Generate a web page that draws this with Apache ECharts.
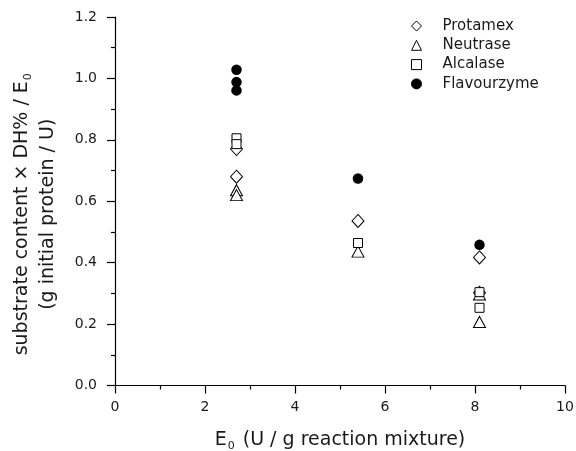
<!DOCTYPE html>
<html>
<head>
<meta charset="utf-8">
<script src="https://cdn.jsdelivr.net/npm/echarts@6/dist/echarts.min.js"></script>
<style>
  html, body { margin: 0; padding: 0; background: #fff; }
  #chart { width: 576px; height: 451px; }
</style>
</head>
<body>
<div id="chart"></div>
<script>
// Enzyme loading (U / g reaction mixture) and normalised hydrolysis per enzyme
const protamexX = [2.7, 2.7, 5.4, 8.1, 8.1];
const protamexY = [0.770, 0.680, 0.536, 0.417, 0.302];
const neutraseX = [2.7, 2.7, 5.4, 8.1, 8.1];
const neutraseY = [0.636, 0.620, 0.436, 0.296, 0.207];
const alcalaseX = [2.7, 2.7, 5.4, 8.1, 8.1];
const alcalaseY = [0.805, 0.786, 0.464, 0.304, 0.253];
const flavourzymeX = [2.7, 2.7, 2.7, 5.4, 8.1];
const flavourzymeY = [1.028, 0.988, 0.961, 0.674, 0.458];

const xTicks = [0, 2, 4, 6, 8, 10];
const yTicks = [0.0, 0.2, 0.4, 0.6, 0.8, 1.0, 1.2];

const pairs = (xs, ys) => xs.map((x, i) => [x, ys[i]]);
const font = 'DejaVu Sans';
const ink = '#1a1a1a';

const openStyle = { color: '#fff', borderColor: '#000', borderWidth: 1, opacity: 1 };

const chart = echarts.init(document.getElementById('chart'), null, { renderer: 'canvas' });
chart.setOption({
  animation: false,
  backgroundColor: '#fff',
  textStyle: { fontFamily: font, color: ink },
  grid: { left: 115, right: 11, top: 17, bottom: 65.5, outerBoundsMode: 'none', containLabel: false },
  legend: {
    orient: 'vertical',
    left: 406,
    top: 13.5,
    itemWidth: 10,
    itemHeight: 10,
    itemGap: 4.3,
    itemStyle: { borderWidth: 1 },
    textStyle: { fontFamily: font, fontSize: 15, lineHeight: 15, color: ink, padding: [0, 0, 0, 16] },
    data: ['Protamex', 'Neutrase', 'Alcalase', 'Flavourzyme']
  },
  xAxis: {
    type: 'value',
    min: xTicks[0],
    max: xTicks[xTicks.length - 1],
    interval: 2,
    name: '{m|E}{s|0}{m| (U / g reaction mixture)}',
    nameLocation: 'middle',
    nameGap: 43,
    nameTextStyle: {
      rich: {
        m: { fontFamily: font, fontSize: 19, color: ink },
        s: { fontFamily: font, fontSize: 11, color: ink, padding: [12, 2, 0, 1] }
      }
    },
    axisLine: { show: true, onZero: false, lineStyle: { color: '#000', width: 1.2 } },
    axisTick: { show: true, inside: false, length: 8, lineStyle: { color: '#000', width: 1.2 } },
    minorTick: { show: true, splitNumber: 2, length: 4, lineStyle: { color: '#000', width: 1.2 } },
    splitLine: { show: false },
    axisLabel: {
      margin: 15,
      fontFamily: font,
      fontSize: 14,
      color: ink,
      formatter: v => String(v)
    }
  },
  yAxis: {
    type: 'value',
    min: yTicks[0],
    max: yTicks[yTicks.length - 1],
    interval: 0.2,
    name: '{m|substrate content × DH% / E}{s|0}\n{m|(g initial protein / U)}',
    nameLocation: 'middle',
    nameRotate: 90,
    nameGap: 54,
    nameTextStyle: {
      lineHeight: 26,
      padding: [0, 26, 0, 0],
      rich: {
        m: { fontFamily: font, fontSize: 19, color: ink, lineHeight: 26 },
        s: { fontFamily: font, fontSize: 11, color: ink, padding: [12, 0, 0, 1], lineHeight: 26 }
      }
    },
    axisLine: { show: true, lineStyle: { color: '#000', width: 1.2 } },
    axisTick: { show: true, inside: false, length: 8, lineStyle: { color: '#000', width: 1.2 } },
    minorTick: { show: true, splitNumber: 2, length: 4, lineStyle: { color: '#000', width: 1.2 } },
    splitLine: { show: false },
    axisLabel: {
      margin: 18,
      fontFamily: font,
      fontSize: 14,
      color: ink,
      formatter: v => v.toFixed(1)
    }
  },
  series: [
    {
      name: 'Protamex', type: 'scatter', symbol: 'diamond', symbolSize: [12, 13],
      itemStyle: openStyle, z: 2,
      data: pairs(protamexX, protamexY)
    },
    {
      name: 'Neutrase', type: 'scatter', symbol: 'triangle', symbolSize: [12, 11],
      itemStyle: openStyle, z: 3,
      data: pairs(neutraseX, neutraseY)
    },
    {
      name: 'Alcalase', type: 'scatter', symbol: 'rect', symbolSize: 9,
      itemStyle: openStyle, z: 4,
      data: pairs(alcalaseX, alcalaseY)
    },
    {
      name: 'Flavourzyme', type: 'scatter', symbol: 'circle', symbolSize: 10.5,
      itemStyle: { color: '#000', borderColor: '#000', borderWidth: 0, opacity: 1 }, z: 5,
      data: pairs(flavourzymeX, flavourzymeY)
    }
  ]
});
</script>
</body>
</html>
